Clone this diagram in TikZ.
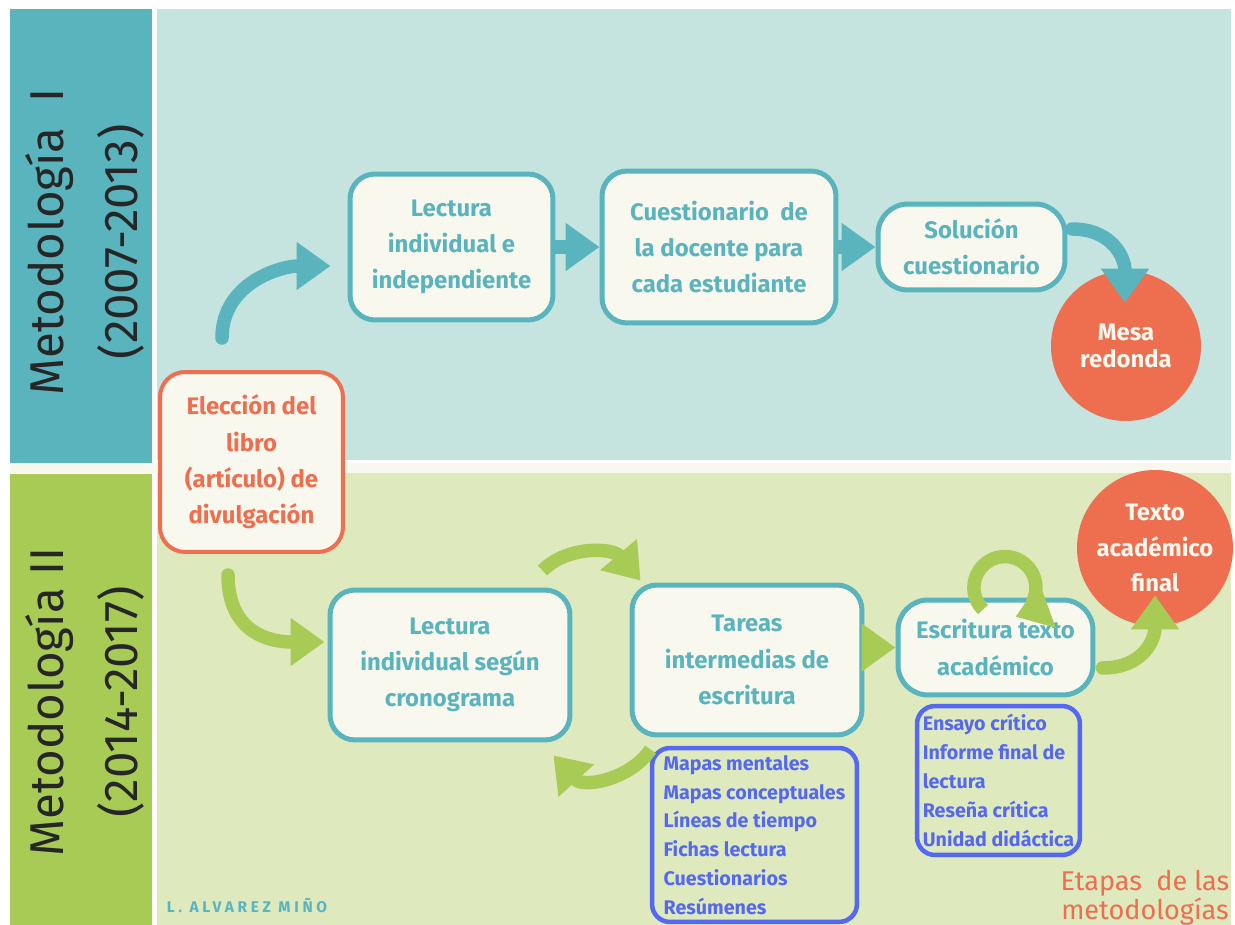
\documentclass[tikz,border=0pt]{standalone}
\usepackage{fontspec}
\setmainfont{Fira Sans}
\usetikzlibrary{arrows.meta}
\definecolor{tealdark}{HTML}{5AB4BE}
\definecolor{tealpale}{HTML}{C5E3DF}
\definecolor{greendark}{HTML}{A7CB55}
\definecolor{greenpale}{HTML}{DEE9BE}
\definecolor{orangeish}{HTML}{EE6E50}
\definecolor{bluelist}{HTML}{5468F2}
\definecolor{cream}{HTML}{F8F8EE}

\begin{document}
\begin{tikzpicture}[x=0.02cm, y=0.02cm,
    stage/.style={draw=tealdark, line width=0.1cm, fill=cream, rounded corners=0.5cm,
        text=tealdark, align=center, inner sep=0pt,
        font=\fontsize{13.6}{20.7}\selectfont\bfseries},
    goal/.style={circle, fill=orangeish, text=cream, align=center, inner sep=0pt},
    listbox/.style={draw=bluelist, line width=0.09cm, rounded corners=0.36cm,
        text=bluelist, align=left, inner sep=0pt,
        font=\fontsize{11.2}{16.4}\selectfont\bfseries},
    tealflow/.style={tealdark, line width=0.27cm, -{Triangle[width=0.92cm,length=0.68cm]}},
    greenflow/.style={greendark, line width=0.27cm, -{Triangle[width=0.92cm,length=0.68cm]}},
]
    \useasboundingbox (0,0) rectangle (1235,-925);
    \fill[white] (0,0) rectangle (1235,-925);
    \fill[tealdark] (10,-9) rectangle (152,-463);
    \fill[tealpale] (157,-9) rectangle (1231,-460);
    \fill[cream] (10,-463) rectangle (1231,-473);
    \fill[greendark] (10,-474) rectangle (152,-925);
    \fill[greenpale] (157,-473) rectangle (1231,-925);

    \node[rotate=90, font=\fontsize{27}{30}\selectfont, text=black!85] (metA) at (50,-242) {Metodología~~I};
    \node[rotate=90, font=\fontsize{27}{30}\selectfont, text=black!85] (yearsA) at (121,-242) {(2007-2013)};
    \node[rotate=90, font=\fontsize{27}{30}\selectfont, text=black!85] (metB) at (50,-702) {Metodología II};
    \node[rotate=90, font=\fontsize{27}{30}\selectfont, text=black!85] (yearsB) at (121,-702) {(2014-2017)};

    \node[stage, draw=orangeish, text=orangeish, line width=0.08cm, minimum width=3.66cm, minimum height=3.6cm] (eleccion) at (251.5,-462) {Elección del\\libro\\(artículo) de\\divulgación};
    \node[stage, minimum width=4.06cm, minimum height=2.92cm] (lecturaA) at (451.5,-247) {Lectura\\individual e\\independiente};
    \node[stage, minimum width=4.68cm, minimum height=3.04cm] (cuestionario) at (719,-247) {Cuestionario~~de\\la docente para\\cada estudiante};
    \node[stage, minimum width=3.74cm, minimum height=1.72cm, rounded corners=0.6cm] (solucion) at (971.5,-247) {Solución\\cuestionario};
    \node[goal, minimum size=3cm, font=\fontsize{13.6}{15.5}\selectfont\bfseries] (mesa) at (1126,-346) {Mesa\\redonda};
    \node[stage, minimum width=4.8cm, minimum height=3cm] (lecturaB) at (450,-665) {Lectura\\individual según\\cronograma};
    \node[stage, minimum width=4.6cm, minimum height=3cm] (tareas) at (747,-660) {Tareas\\intermedias de\\escritura};
    \node[stage, minimum width=3.9cm, minimum height=1.9cm, rounded corners=0.6cm] (escritura) at (995.5,-647.5) {Escritura texto\\académico};
    \node[goal, minimum size=3.12cm, font=\fontsize{13.6}{20.4}\selectfont\bfseries] (final) at (1155,-548) {Texto\\académico\\final};
    \node[listbox, minimum width=4.1cm, minimum height=3.48cm] (tecnicas) at (754.5,-835) {Mapas mentales\\Mapas conceptuales\\Líneas de tiempo\\Fichas lectura\\Cuestionarios\\Resúmenes};
    \node[listbox, minimum width=3.26cm, minimum height=2.98cm] (productos) at (998.5,-780.5) {Ensayo crítico\\Informe final de\\lectura\\Reseña crítica\\Unidad didáctica};

    \node[text=orangeish, align=center, font=\fontsize{15.4}{16.5}\selectfont] (etapas) at (1145,-898) {Etapas~~de las\\metodologías};
    \node[text=tealdark, font=\fontsize{8.8}{9}\selectfont\bfseries\addfontfeatures{LetterSpace=24}] (autor) at (247,-906) {L. ALVAREZ MIÑO};

    \draw[tealflow, line cap=round] ([shift={(-29.5,32)}]eleccion.north) .. controls +(0,55) and +(-50,0) .. ([shift={(-17,-19)}]lecturaA.west);
    \draw[tealflow] (lecturaA.east) -- (cuestionario.west);
    \draw[tealflow] (cuestionario.east) -- (solucion.west);
    \draw[tealflow, line cap=round] ([shift={(4.5,18)}]solucion.east) .. controls +(40,0) and +(0,45) .. ([shift={(-1,-32)}]mesa.north);

    \draw[greenflow, line cap=round] ([shift={(-23.5,-21)}]eleccion.south) .. controls +(0,-50) and +(-65,0) .. ([shift={(-3,23)}]lecturaB.west);
    \draw[greenflow] ([shift={(-30,17)}]lecturaB.north east) .. controls +(25,25) and +(-28,33) .. ([shift={(11,2)}]tareas.north west);
    \draw[greenflow] ([shift={(21,-12)}]tareas.south west) .. controls +(-20,-30) and +(30,-33) .. ([shift={(-19,-13)}]lecturaB.south east);
    \draw[greenflow] (tareas.east |- escritura.west) -- (escritura.west);
    \draw[greenflow] ([shift={(-12.5,-12)}]escritura.north) arc[start angle=225, end angle=-70, radius=31];
    \draw[greenflow, line cap=round] ([shift={(7,-20.5)}]escritura.east) .. controls +(40,0) and +(0,-45) .. ([shift={(0,31)}]final.south);
\end{tikzpicture}
\end{document}
